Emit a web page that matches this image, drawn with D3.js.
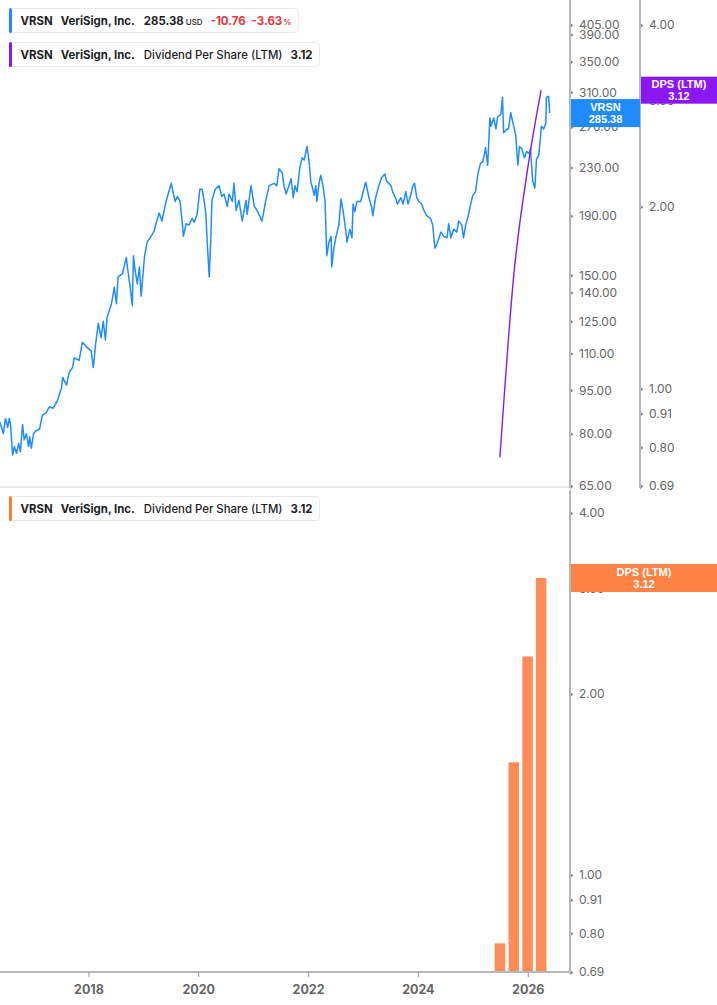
<!DOCTYPE html>
<html>
<head>
<meta charset="utf-8">
<script src="https://cdn.jsdelivr.net/npm/d3@7"></script>
<style>
  html, body { margin: 0; padding: 0; background: #fff; }
  svg { display: block; font-family: Inter, "Noto Sans", sans-serif; }
  .tick text { fill: #666; font-size: 12px; }
  .xaxis .tick text { font-weight: 700; fill: #666; font-size: 12.5px; }
</style>
</head>
<body>
<svg id="chart" width="717" height="1005"></svg>
<script>
// VRSN close, [decimal year, price USD]
var pricePoints = [
  [2016.38, 84], [2016.42, 82], [2016.45, 80], [2016.49, 85], [2016.53, 82], [2016.56, 85],
  [2016.58, 83], [2016.62, 73.5], [2016.65, 76], [2016.69, 74], [2016.73, 77], [2016.76, 74.5],
  [2016.80, 83], [2016.83, 78], [2016.87, 80], [2016.91, 76], [2016.93, 79], [2016.96, 75.5],
  [2017.00, 80], [2017.05, 81], [2017.11, 81.5], [2017.16, 86], [2017.23, 87], [2017.29, 89],
  [2017.36, 88.5], [2017.43, 91], [2017.51, 96], [2017.53, 100], [2017.60, 97], [2017.65, 102],
  [2017.71, 104], [2017.74, 108], [2017.83, 107], [2017.89, 115], [2017.96, 113], [2018.05, 111],
  [2018.09, 104], [2018.13, 114], [2018.18, 124], [2018.23, 117], [2018.27, 125], [2018.31, 116],
  [2018.34, 127], [2018.42, 134], [2018.47, 143], [2018.51, 134], [2018.54, 149], [2018.62, 151],
  [2018.69, 161], [2018.71, 155], [2018.76, 143], [2018.80, 133], [2018.82, 162], [2018.85, 153],
  [2018.89, 145], [2018.93, 155], [2018.96, 138], [2019.02, 161], [2019.07, 171], [2019.14, 175],
  [2019.20, 179], [2019.23, 184], [2019.29, 192], [2019.34, 186], [2019.38, 194], [2019.42, 202],
  [2019.51, 216], [2019.53, 211], [2019.58, 201], [2019.62, 205], [2019.67, 201], [2019.71, 185],
  [2019.73, 175], [2019.78, 184], [2019.83, 183], [2019.89, 188], [2019.93, 185], [2019.98, 191],
  [2020.03, 211], [2020.07, 211], [2020.11, 201], [2020.14, 191], [2020.16, 174], [2020.20, 149],
  [2020.23, 174], [2020.25, 202], [2020.31, 211], [2020.38, 214], [2020.43, 205], [2020.47, 207],
  [2020.53, 197], [2020.56, 207], [2020.62, 201], [2020.65, 216], [2020.69, 194], [2020.74, 202],
  [2020.80, 186], [2020.87, 202], [2020.89, 191], [2020.96, 214], [2021.02, 197], [2021.07, 194],
  [2021.16, 186], [2021.23, 202], [2021.29, 214], [2021.38, 216], [2021.43, 214], [2021.47, 229],
  [2021.53, 225], [2021.56, 214], [2021.60, 207], [2021.65, 214], [2021.69, 220], [2021.73, 204],
  [2021.76, 214], [2021.80, 209], [2021.85, 230], [2021.89, 239], [2021.93, 237], [2021.98, 250],
  [2022.02, 235], [2022.05, 217], [2022.07, 214], [2022.11, 206], [2022.14, 214], [2022.16, 201],
  [2022.20, 216], [2022.23, 223], [2022.27, 214], [2022.31, 201], [2022.33, 174], [2022.34, 162],
  [2022.38, 171], [2022.42, 175], [2022.43, 155], [2022.47, 167], [2022.51, 175], [2022.56, 183],
  [2022.60, 203], [2022.64, 193], [2022.69, 178], [2022.71, 171], [2022.76, 180], [2022.80, 174],
  [2022.82, 199], [2022.85, 193], [2022.89, 201], [2022.96, 201], [2023.02, 212], [2023.05, 217],
  [2023.11, 204], [2023.16, 196], [2023.18, 190], [2023.23, 204], [2023.29, 214], [2023.34, 221],
  [2023.40, 224], [2023.43, 218], [2023.51, 214], [2023.54, 209], [2023.60, 203], [2023.63, 199],
  [2023.69, 204], [2023.73, 199], [2023.78, 209], [2023.82, 199], [2023.87, 206], [2023.91, 214],
  [2023.94, 216], [2023.98, 204], [2024.02, 201], [2024.07, 199], [2024.11, 194], [2024.16, 190],
  [2024.23, 188], [2024.27, 183], [2024.31, 167], [2024.34, 169], [2024.42, 178], [2024.47, 175],
  [2024.53, 174], [2024.56, 184], [2024.60, 174], [2024.65, 180], [2024.71, 178], [2024.74, 186],
  [2024.80, 183], [2024.83, 174], [2024.87, 183], [2024.91, 189], [2024.96, 199], [2025.00, 206],
  [2025.05, 209], [2025.09, 224], [2025.14, 234], [2025.18, 235], [2025.22, 245], [2025.23, 249],
  [2025.27, 232], [2025.31, 280], [2025.33, 271], [2025.38, 280], [2025.42, 268], [2025.45, 281],
  [2025.51, 284], [2025.54, 304], [2025.56, 264], [2025.62, 268], [2025.65, 268], [2025.69, 286],
  [2025.71, 280], [2025.78, 262], [2025.82, 232], [2025.85, 250], [2025.89, 248], [2025.94, 239],
  [2025.98, 245], [2026.03, 243], [2026.05, 248], [2026.09, 218], [2026.13, 212], [2026.16, 238],
  [2026.20, 241], [2026.25, 271], [2026.29, 268], [2026.33, 274], [2026.34, 304], [2026.38, 305],
  [2026.40, 285.38]
];

// Dividend per share, last twelve months
var dpsDates = ["2025-06-30", "2025-09-30", "2025-12-31", "2026-03-31"];
var dpsValues = [0.77, 1.54, 2.31, 3.12];

var priceTicks = [65, 80, 95, 110, 125, 140, 150, 190, 230, 270, 310, 350, 390, 405];
var dpsTicks = [0.69, 0.80, 0.91, 1.00, 2.00, 3.00, 4.00];
var yearTicks = [2018, 2020, 2022, 2024, 2026];

var lastPrice = 285.38, change = -10.76, changePct = -3.63, lastDps = 3.12;

var blue = "#1e8cff", purple = "#8b17f2", orange = "#ff8c57", orangeBox = "#ff8245";
var axisGray = "#b8b8b8";

function yearToDate(v) {
    var y = Math.floor(v);
    var start = new Date(y, 0, 1), end = new Date(y + 1, 0, 1);
    return new Date(+start + (v - y) * (end - start));
}

var svg = d3.select("#chart");
var plotRight = 570, dpsAxisX = 640;
var topBottom = 486, botTop = 490, botBottom = 972;

var x = d3.scaleTime()
    .domain([yearToDate(2016.39), yearToDate(2026.77)])
    .range([0, plotRight]);
var yPrice = d3.scaleLog().domain([65, 447]).range([topBottom, 0]);
var yDpsTop = d3.scaleLog().domain([0.69, 4.4]).range([topBottom, 0]);
var yDpsBot = d3.scaleLog().domain([0.69, 4.37]).range([botBottom, botTop]);

svg.append("clipPath").attr("id", "topclip")
    .append("rect").attr("x", 0).attr("y", 0).attr("width", plotRight).attr("height", topBottom);

// panel separator
svg.append("line")
    .attr("x1", 0).attr("x2", plotRight)
    .attr("y1", topBottom + 1).attr("y2", topBottom + 1)
    .attr("stroke", "#d4d4d4").attr("stroke-width", 1);

// price line
var priceLine = d3.line()
    .x(function (d) { return x(yearToDate(d[0])); })
    .y(function (d) { return yPrice(d[1]); });
svg.append("path")
    .datum(pricePoints)
    .attr("clip-path", "url(#topclip)")
    .attr("fill", "none")
    .attr("stroke", blue)
    .attr("stroke-width", 1.5)
    .attr("stroke-linejoin", "round")
    .attr("d", priceLine);

// DPS line in top panel
var dpsData = dpsDates.map(function (d, i) {
    return { date: d3.timeParse("%Y-%m-%d")(d), value: dpsValues[i] };
});
svg.append("path")
    .datum(dpsData)
    .attr("fill", "none")
    .attr("stroke", purple)
    .attr("stroke-width", 1.4)
    .attr("d", d3.line()
        .curve(d3.curveMonotoneX)
        .x(function (d) { return x(d.date); })
        .y(function (d) { return yDpsTop(d.value); }));

// DPS bars in bottom panel
var barW = 10.5;
svg.append("g").selectAll("rect")
    .data(dpsData)
    .enter().append("rect")
    .attr("x", function (d) { return x(d.date) - barW / 2; })
    .attr("y", function (d) { return yDpsBot(d.value); })
    .attr("width", barW)
    .attr("height", function (d) { return botBottom - yDpsBot(d.value); })
    .attr("fill", orange);

// right axes
function rightAxis(scale, ticks, xPos, y0, y1) {
    var g = svg.append("g")
        .attr("transform", "translate(" + xPos + ",0)")
        .call(d3.axisRight(scale).tickValues(ticks).tickFormat(d3.format(".2f")).tickSize(0).tickPadding(9));
    g.select(".domain").remove();
    g.selectAll(".tick").append("path")
        .attr("d", "M0,-2.5L3.5,0L0,2.5Z")
        .attr("fill", "#888");
    g.selectAll(".tick text").attr("font-family", "Inter, sans-serif");
    svg.append("line")
        .attr("x1", xPos).attr("x2", xPos)
        .attr("y1", y0).attr("y2", y1)
        .attr("stroke", axisGray).attr("stroke-width", 2);
    return g;
}
rightAxis(yPrice, priceTicks, plotRight, 0, topBottom + 2);
rightAxis(yDpsTop, dpsTicks, dpsAxisX, 0, topBottom + 2);
rightAxis(yDpsBot, dpsTicks, plotRight, botTop, botBottom + 1);

// x axis
var xg = svg.append("g")
    .attr("class", "xaxis")
    .attr("transform", "translate(0," + botBottom + ")")
    .call(d3.axisBottom(x)
        .tickValues(yearTicks.map(function (y) { return new Date(y, 0, 1); }))
        .tickFormat(d3.timeFormat("%Y"))
        .tickSize(5).tickPadding(8));
xg.select(".domain").attr("stroke", axisGray).attr("stroke-width", 2)
    .attr("d", "M0,0H" + plotRight);
xg.selectAll(".tick line").attr("stroke", "#999");
xg.selectAll(".tick text").attr("font-family", "Inter, sans-serif");

// value badges on the axes
function badge(x0, w, yc, h, fill, line1, line2) {
    var g = svg.append("g");
    g.append("rect")
        .attr("x", x0).attr("y", yc - h / 2)
        .attr("width", w).attr("height", h)
        .attr("fill", fill);
    g.append("text")
        .attr("x", x0 + w / 2).attr("y", yc - 2)
        .attr("text-anchor", "middle")
        .attr("font-size", 11).attr("font-weight", 700).attr("fill", "#fff")
        .attr("font-family", "Arial, 'Liberation Sans', sans-serif")
        .text(line1);
    g.append("text")
        .attr("x", x0 + w / 2).attr("y", yc + 10)
        .attr("text-anchor", "middle")
        .attr("font-size", 11).attr("font-weight", 700).attr("fill", "#fff")
        .attr("font-family", "Arial, 'Liberation Sans', sans-serif")
        .text(line2);
}
badge(plotRight + 1, dpsAxisX - plotRight - 1, yPrice(lastPrice), 28, blue, "VRSN", lastPrice.toFixed(2));
badge(dpsAxisX + 1, 717 - dpsAxisX - 1, yDpsTop(lastDps), 27, purple, "DPS (LTM)", lastDps.toFixed(2));
badge(plotRight + 1, 717 - plotRight - 1, yDpsBot(lastDps), 28, orangeBox, "DPS (LTM)", lastDps.toFixed(2));

// legends
function legend(y0, color, parts) {
    var g = svg.append("g");
    var bg = g.append("rect")
        .attr("x", 9.5).attr("y", y0 + 0.5)
        .attr("height", 24).attr("rx", 3)
        .attr("fill", "#fff").attr("stroke", "#e8e8e8");
    var cx = 20.5;
    parts.forEach(function (p) {
        cx += p.gap || 0;
        var t = g.append("text")
            .attr("x", cx).attr("y", y0 + 17)
            .attr("font-size", p.size || 11.4)
            .attr("font-weight", p.bold ? 700 : 500)
            .attr("fill", p.color || "#1d1d1f")
            .text(p.text);
        cx += t.node().getComputedTextLength();
    });
    bg.attr("width", cx + 7 - 9.5);
    g.append("rect")
        .attr("x", 9).attr("y", y0)
        .attr("width", 3).attr("height", 25).attr("rx", 1.5)
        .attr("fill", color);
}
var red = "#e0393e";
legend(8, blue, [
    { text: "VRSN", bold: true },
    { text: "VeriSign, Inc.", bold: true, gap: 8 },
    { text: lastPrice.toFixed(2), bold: true, gap: 9 },
    { text: "USD", size: 8, gap: 2 },
    { text: change.toFixed(2), bold: true, color: red, gap: 8 },
    { text: changePct.toFixed(2), bold: true, color: red, gap: 6 },
    { text: "%", size: 8, bold: true, color: red, gap: 1 }
]);
legend(42, purple, [
    { text: "VRSN", bold: true },
    { text: "VeriSign, Inc.", bold: true, gap: 8 },
    { text: "Dividend Per Share (LTM)", gap: 9 },
    { text: lastDps.toFixed(2), bold: true, gap: 8 }
]);
legend(496, "#ff7a35", [
    { text: "VRSN", bold: true },
    { text: "VeriSign, Inc.", bold: true, gap: 8 },
    { text: "Dividend Per Share (LTM)", gap: 9 },
    { text: lastDps.toFixed(2), bold: true, gap: 8 }
]);
</script>
</body>
</html>
